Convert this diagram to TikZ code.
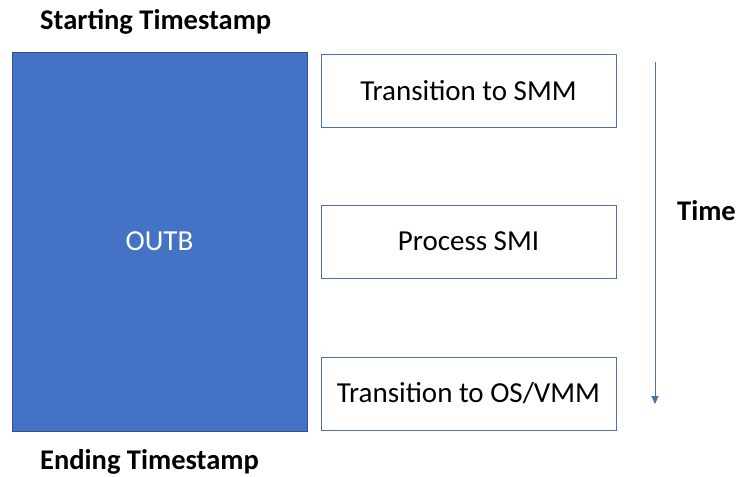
\documentclass[tikz,border=0pt]{standalone}
\usepackage{fontspec}
\setmainfont{Carlito}
\usetikzlibrary{arrows.meta}
\definecolor{blockblue}{HTML}{4472C4}
\definecolor{blockedge}{HTML}{2F528F}
\definecolor{stepedge}{HTML}{4A6FB0}
\begin{document}
\begin{tikzpicture}[x=1pt,y=-1pt,
  stepbox/.style={draw=stepedge,line width=1pt,fill=white,minimum width=295pt,minimum height=73pt,inner sep=0pt,font=\fontsize{29}{34}\selectfont},
  label/.style={font=\bfseries\fontsize{28.5}{34}\selectfont,inner sep=0pt}]
\useasboundingbox (0,0) rectangle (737,477);
\node[fill=blockblue,draw=blockedge,line width=0.6pt,minimum width=295pt,minimum height=379pt,inner sep=0pt,text=white,font=\fontsize{29}{34}\selectfont] (outb) at (159.5,241.5) {OUTB};
\node[stepbox] (smm) at (468.5,90.5) {Transition to SMM};
\node[stepbox] (smi) at (468.5,241.5) {Process SMI};
\node[stepbox] (os) at (468.5,393.5) {Transition to OS/VMM};
\node[label,anchor=west] (start) at (40,22) {Starting Timestamp};
\node[label,anchor=west] (end) at (40,462) {Ending Timestamp};
\node[label,anchor=west] (time) at (677,211) {Time};
\coordinate (ta) at (655,62);
\coordinate (tb) at (655,404);
\draw[stepedge,line width=0.9pt,-{Triangle[length=8pt,width=7pt]}] (ta) -- (tb);
\end{tikzpicture}
\end{document}
